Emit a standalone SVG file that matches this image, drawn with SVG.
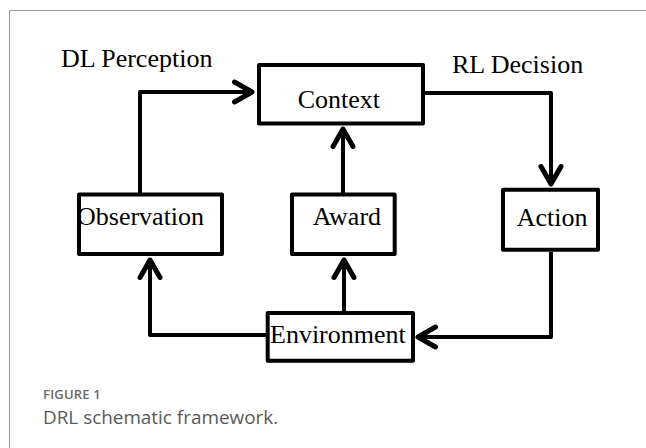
<svg xmlns="http://www.w3.org/2000/svg" width="646" height="448" viewBox="0 0 646 448">
  <style>
    .box { fill: none; stroke: #000; stroke-width: 4; stroke-linejoin: round; }
    .lbl { font-family: "Liberation Serif", "Times New Roman", serif; font-size: 26px; fill: #000; }
    .wire { fill: none; stroke: #000; stroke-width: 4; stroke-linejoin: round; }
    .cap1 { font-family: "Open Sans", "Liberation Sans", sans-serif; font-size: 13px; font-weight: 600; fill: #6b6b6b; letter-spacing: 0.2px; }
    .cap2 { font-family: "Open Sans", "Liberation Sans", sans-serif; font-size: 18.9px; fill: #5a5a5a; }
  </style>
  <defs>
    <marker id="chev" markerUnits="userSpaceOnUse" markerWidth="30" markerHeight="30" viewBox="-20 -12 24 24" refX="0" refY="0" orient="auto" overflow="visible">
      <path d="M-14,-8 L0,0 L-14,8" fill="none" stroke="#000" stroke-width="4" stroke-linecap="round" stroke-linejoin="round"/>
    </marker>
  </defs>

  <rect width="646" height="448" fill="#fff"/>
  <!-- page frame -->
  <path d="M9.5,448 V10.5 H646" fill="none" stroke="#999" stroke-width="1"/>

  <!-- section headings -->
  <text class="lbl" x="61" y="67">DL Perception</text>
  <text class="lbl" x="452" y="73">RL Decision</text>

  <g id="connectors">
    <path class="wire" d="M140,193 V92 H252" marker-end="url(#chev)"/>
    <path class="wire" d="M423,93 H551 V184" marker-end="url(#chev)"/>
    <path class="wire" d="M551,252 V337 H418" marker-end="url(#chev)"/>
    <path class="wire" d="M266,335 H150 V260" marker-end="url(#chev)"/>
    <path class="wire" d="M344,311 V260" marker-end="url(#chev)"/>
    <path class="wire" d="M343,193 V129" marker-end="url(#chev)"/>
  </g>

  <g id="context">
    <text class="lbl" x="297.7" y="108">Context</text>
    <rect class="box" x="259" y="65" width="164" height="58.5"/>
  </g>
  <g id="observation">
    <text class="lbl" x="77" y="225">Observation</text>
    <rect class="box" x="79" y="194.5" width="143" height="59.5"/>
  </g>
  <g id="award">
    <text class="lbl" x="312.7" y="225">Award</text>
    <rect class="box" x="292" y="194.5" width="102.7" height="59.5"/>
  </g>
  <g id="action">
    <text class="lbl" x="516.7" y="226">Action</text>
    <rect class="box" x="503" y="189.7" width="95" height="60"/>
  </g>
  <g id="environment">
    <text class="lbl" x="270" y="343">Environment</text>
    <rect class="box" x="267.7" y="313" width="145.3" height="47.7"/>
  </g>

  <!-- caption -->
  <text class="cap1" x="43" y="399.3">FIGURE 1</text>
  <text class="cap2" x="43" y="424">DRL schematic framework.</text>
</svg>
